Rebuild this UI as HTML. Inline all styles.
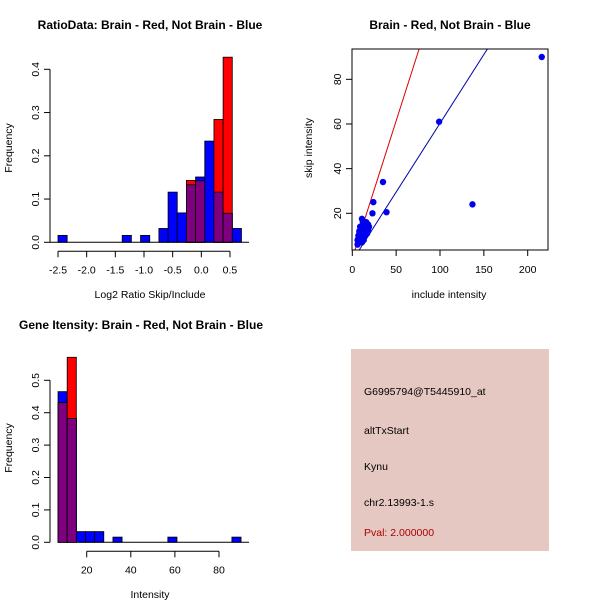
<!DOCTYPE html>
<html><head><meta charset="utf-8"><style>
html,body{margin:0;padding:0;background:#fff}
svg{display:block;font-family:"Liberation Sans",sans-serif}
</style></head><body>
<svg id="c" width="600" height="600" viewBox="0 0 600 600" xmlns="http://www.w3.org/2000/svg">
<g font-weight="bold" font-size="12" text-anchor="middle" fill="#000">
<text x="150" y="29">RatioData: Brain - Red, Not Brain - Blue</text>
<text x="450" y="29">Brain - Red, Not Brain - Blue</text>
<text x="141" y="329">Gene Itensity: Brain - Red, Not Brain - Blue</text>
</g>
<g id="p1"></g>
<g id="p2"></g>
<g id="p3"></g>
<g>
<rect x="351" y="349" width="198" height="202" fill="#e6c8c2"/>
<g font-size="10.5" fill="#000">
<text x="364" y="395">G6995794@T5445910_at</text>
<text x="364" y="434">altTxStart</text>
<text x="364" y="470">Kynu</text>
<text x="364" y="506">chr2.13993-1.s</text>
<text x="364" y="536" fill="#aa0000">Pval: 2.000000</text>
</g></g>
</svg>
<script>
// ---- Ratio histogram data ----
const ratioStart = -2.5, ratioWidth = 0.16;
const ratioBlue = [0.016,0,0,0,0,0,0,0.016,0,0.016,0,0.032,0.116,0.068,0.133,0.151,0.234,0.116,0.067,0.032];
const ratioRed  = [0,0,0,0,0,0,0,0,0,0,0,0,0,0,0.143,0.142,0,0.284,0.428,0];
const ratioXTicks = [-2.5,-2.0,-1.5,-1.0,-0.5,0.0,0.5];
const ratioXLabels = ["-2.5","-2.0","-1.5","-1.0","-0.5","0.0","0.5"];
const ratioYTicks = [0,0.1,0.2,0.3,0.4];
const ratioYLabels = ["0.0","0.1","0.2","0.3","0.4"];
// ---- Intensity histogram data ----
const intStart = 7, intWidth = 4.15;
const intBlue = [0.465,0.382,0.033,0.033,0.033,0,0.016,0,0,0,0,0,0.016,0,0,0,0,0,0,0.016];
const intRed  = [0.431,0.571,0,0,0,0,0,0,0,0,0,0,0,0,0,0,0,0,0,0];
const intXTicks = [20,40,60,80];
const intXLabels = ["20","40","60","80"];
const intYTicks = [0,0.1,0.2,0.3,0.4,0.5];
const intYLabels = ["0.0","0.1","0.2","0.3","0.4","0.5"];
// ---- Scatter data ----
const incl = [216,99,137,35,24,23,39,11,9,8,7,6,7,8,9,10,10,11,12,12,13,13,14,14,15,15,16,16,17,17,18,18,19,6,7,8,9,10,11,12,13,14,15,16,17,18,12,14,16,9,11,13,15];
const skip = [90,61,24,34,25,20,20.5,17.5,14,12,10,8,9,11,12,13,10,12,14,11,13,15,12,14,11,15,13,16,12,14,13,15,14,6,7,8,9,8,9,10,9,10,11,12,11,12,16,16,15,7,7,8,10];
const lineIntercept = [-0.1,-1.3];
const lineSlope = [1.23,0.616];
const lineColor = ["#dd0000","#0000aa"];
const scXTicks=[0,50,100,150,200], scXLabels=["0","50","100","150","200"];
const scYTicks=[20,40,60,80], scYLabels=["20","40","60","80"];

const NS="http://www.w3.org/2000/svg";
function mk(parent,tag,attrs,txt){const e=document.createElementNS(NS,tag);for(const k in attrs)e.setAttribute(k,attrs[k]);if(txt!==undefined)e.textContent=txt;parent.appendChild(e);return e;}
const FS=10.5;
function hist(g,o){
  const sx=v=>o.x0+(v-o.xv0)*o.kx, sy=v=>o.y0-v*o.ky;
  o.blue.forEach((b,i)=>{
    const r=o.red[i], a=o.start+i*o.w, x=sx(a), w=o.w*o.kx;
    if(b>0){const e=mk(g,'rect',{x:x,y:sy(b),width:w,height:b*o.ky,fill:'#0000ff',stroke:'#000','stroke-width':0.8});
      
      }
    if(r>0){const e=mk(g,'rect',{x:x,y:sy(r),width:w,height:r*o.ky,fill:'#ff0000',stroke:'#000','stroke-width':0.8});
      
      }
    const m=Math.min(b,r);
    if(m>0){const e=mk(g,'rect',{x:x,y:sy(m),width:w,height:m*o.ky,fill:'#7f007f',stroke:'#000','stroke-width':0.8});
      
      }
  });
  mk(g,'line',{x1:o.x0-8,x2:o.xEnd,y1:o.y0,y2:o.y0,stroke:'#000'});
  mk(g,'line',{x1:o.yAxX,x2:o.yAxX,y1:sy(o.yt[0]),y2:sy(o.yt[o.yt.length-1]),stroke:'#000'});
  o.yt.forEach((v,i)=>{mk(g,'line',{x1:o.yAxX-6,x2:o.yAxX,y1:sy(v),y2:sy(v),stroke:'#000'});
    const t=mk(g,'text',{x:0,y:0,'font-size':FS,'text-anchor':'middle',transform:`translate(${o.yAxX-11},${sy(v)}) rotate(-90)`},o.yl[i]);
    
    });
  const ay=o.y0+9;
  mk(g,'line',{x1:sx(o.xt[0]),x2:sx(o.xt[o.xt.length-1]),y1:ay,y2:ay,stroke:'#000'});
  o.xt.forEach((v,i)=>{mk(g,'line',{x1:sx(v),x2:sx(v),y1:ay,y2:ay+6,stroke:'#000'});
    const t=mk(g,'text',{x:sx(v),y:ay+22,'font-size':FS,'text-anchor':'middle'},o.xl[i]);
    
    });
  const xt=mk(g,'text',{x:o.xTitleX,y:o.xTitleY,'font-size':FS,'text-anchor':'middle'},o.xTitle);
  
  
  const yt=mk(g,'text',{x:0,y:0,'font-size':FS,'text-anchor':'middle',transform:`translate(12,${o.yTitleY}) rotate(-90)`},'Frequency');
  
  
}
hist(document.getElementById('p1'),{blue:ratioBlue,red:ratioRed,start:ratioStart,w:ratioWidth,x0:58,xv0:-2.5,kx:57.33,y0:242.3,ky:432.5,xEnd:249,yAxX:50,
  xt:ratioXTicks,xl:ratioXLabels,yt:ratioYTicks,yl:ratioYLabels,xTitle:'Log2 Ratio Skip/Include',xTitleX:150,xTitleY:298,yTitleY:148});
hist(document.getElementById('p3'),{blue:intBlue,red:intRed,start:intStart,w:intWidth,x0:86.7,xv0:20,kx:2.205,y0:542.3,ky:324,xEnd:249,yAxX:50,
  xt:intXTicks,xl:intXLabels,yt:intYTicks,yl:intYLabels,xTitle:'Intensity',xTitleX:150,xTitleY:598,yTitleY:448});

(function(){
  const g=document.getElementById('p2');
  const L=352,R=548,T=49,B=250;
  const sx=v=>352.3+v*0.877, sy=v=>213.3-(v-20)*2.233;
  const cp=mk(g,'clipPath',{id:'clip2'});mk(cp,'rect',{x:L,y:T,width:R-L,height:B-T});
  const pg=mk(g,'g',{'clip-path':'url(#clip2)'});
  lineIntercept.forEach((a,i)=>{const x1=-10,x2=250;
    const e=mk(pg,'line',{x1:sx(x1),y1:sy(a+lineSlope[i]*x1),x2:sx(x2),y2:sy(a+lineSlope[i]*x2),stroke:lineColor[i],'stroke-width':1});
    
    });
  incl.forEach((v,i)=>{const e=mk(pg,'circle',{cx:sx(v),cy:sy(skip[i]),r:3.2,fill:'#0000ee'});
    
    });
  mk(g,'rect',{x:L,y:T,width:R-L,height:B-T,fill:'none',stroke:'#000'});
  scXTicks.forEach((v,i)=>{mk(g,'line',{x1:sx(v),x2:sx(v),y1:B,y2:B+6,stroke:'#000'});
    const t=mk(g,'text',{x:sx(v),y:B+23,'font-size':FS,'text-anchor':'middle'},scXLabels[i]);
    
    });
  scYTicks.forEach((v,i)=>{mk(g,'line',{x1:L-6,x2:L,y1:sy(v),y2:sy(v),stroke:'#000'});
    const t=mk(g,'text',{x:0,y:0,'font-size':FS,'text-anchor':'middle',transform:`translate(${L-11},${sy(v)}) rotate(-90)`},scYLabels[i]);
    
    });
  const xt=mk(g,'text',{x:449,y:298,'font-size':FS,'text-anchor':'middle'},'include intensity');
  
  
  const yt=mk(g,'text',{x:0,y:0,'font-size':FS,'text-anchor':'middle',transform:'translate(312,148) rotate(-90)'},'skip intensity');
  
  
})();
</script>
</body></html>
